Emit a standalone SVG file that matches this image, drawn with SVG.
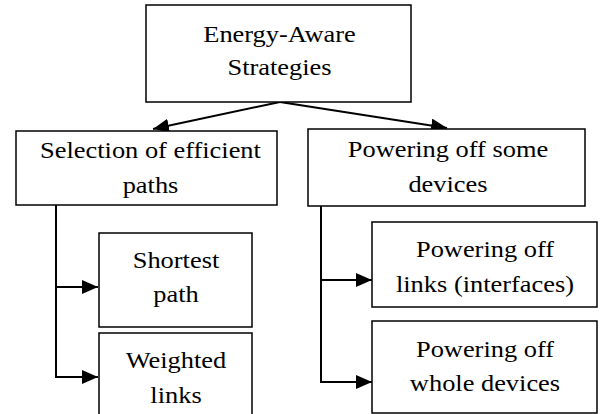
<svg xmlns="http://www.w3.org/2000/svg" width="603" height="414" viewBox="0 0 603 414">
<style>
.box{fill:#fff;stroke:#000;stroke-width:1.5}
.t{font-family:"Liberation Serif","Times New Roman",serif;font-size:24px;fill:#000;text-anchor:middle}
.c{fill:none;stroke:#000;stroke-width:2}
</style>
<defs>
<marker id="ah" markerUnits="userSpaceOnUse" markerWidth="16" markerHeight="14" refX="16" refY="7" orient="auto">
<path d="M0,0 L16,7 L0,14 z" fill="#000"/>
</marker>
</defs>
<rect width="603" height="414" fill="#fff"/>
<g id="connectors">
<path class="c" d="M280,102 L153,129" marker-end="url(#ah)"/>
<path class="c" d="M280,102 L447,128" marker-end="url(#ah)"/>
<path class="c" d="M56,205 L56,377 L98,377" marker-end="url(#ah)"/>
<path class="c" d="M56,287 L98,287" marker-end="url(#ah)"/>
<path class="c" d="M321,206 L321,382 L372,382" marker-end="url(#ah)"/>
<path class="c" d="M321,280 L372,280" marker-end="url(#ah)"/>
</g>
<g id="root">
<rect class="box" x="146" y="5" width="265" height="97"/>
<g transform="scale(1.1,1)">
<text class="t" x="254.09" y="42">Energy-Aware</text>
<text class="t" x="254.09" y="75">Strategies</text>
</g>
</g>
<g id="selection">
<rect class="box" x="16" y="131" width="261" height="74"/>
<g transform="scale(1.1,1)">
<text class="t" x="136.82" y="158">Selection of efficient</text>
<text class="t" x="136.82" y="193">paths</text>
</g>
</g>
<g id="powering">
<rect class="box" x="308" y="129" width="277" height="77"/>
<g transform="scale(1.1,1)">
<text class="t" x="407.27" y="157">Powering off some</text>
<text class="t" x="407.27" y="192">devices</text>
</g>
</g>
<g id="shortest">
<rect class="box" x="99" y="233" width="153" height="94"/>
<g transform="scale(1.1,1)">
<text class="t" x="160" y="268">Shortest</text>
<text class="t" x="160" y="302">path</text>
</g>
</g>
<g id="weighted">
<rect class="box" x="99" y="333" width="153" height="90"/>
<g transform="scale(1.1,1)">
<text class="t" x="160" y="368">Weighted</text>
<text class="t" x="160" y="403">links</text>
</g>
</g>
<g id="links">
<rect class="box" x="372" y="222" width="225" height="85"/>
<g transform="scale(1.1,1)">
<text class="t" x="440.91" y="257">Powering off</text>
<text class="t" x="440.91" y="292">links (interfaces)</text>
</g>
</g>
<g id="whole">
<rect class="box" x="372" y="321" width="225" height="92"/>
<g transform="scale(1.1,1)">
<text class="t" x="440.91" y="357">Powering off</text>
<text class="t" x="440.91" y="391">whole devices</text>
</g>
</g>
</svg>
